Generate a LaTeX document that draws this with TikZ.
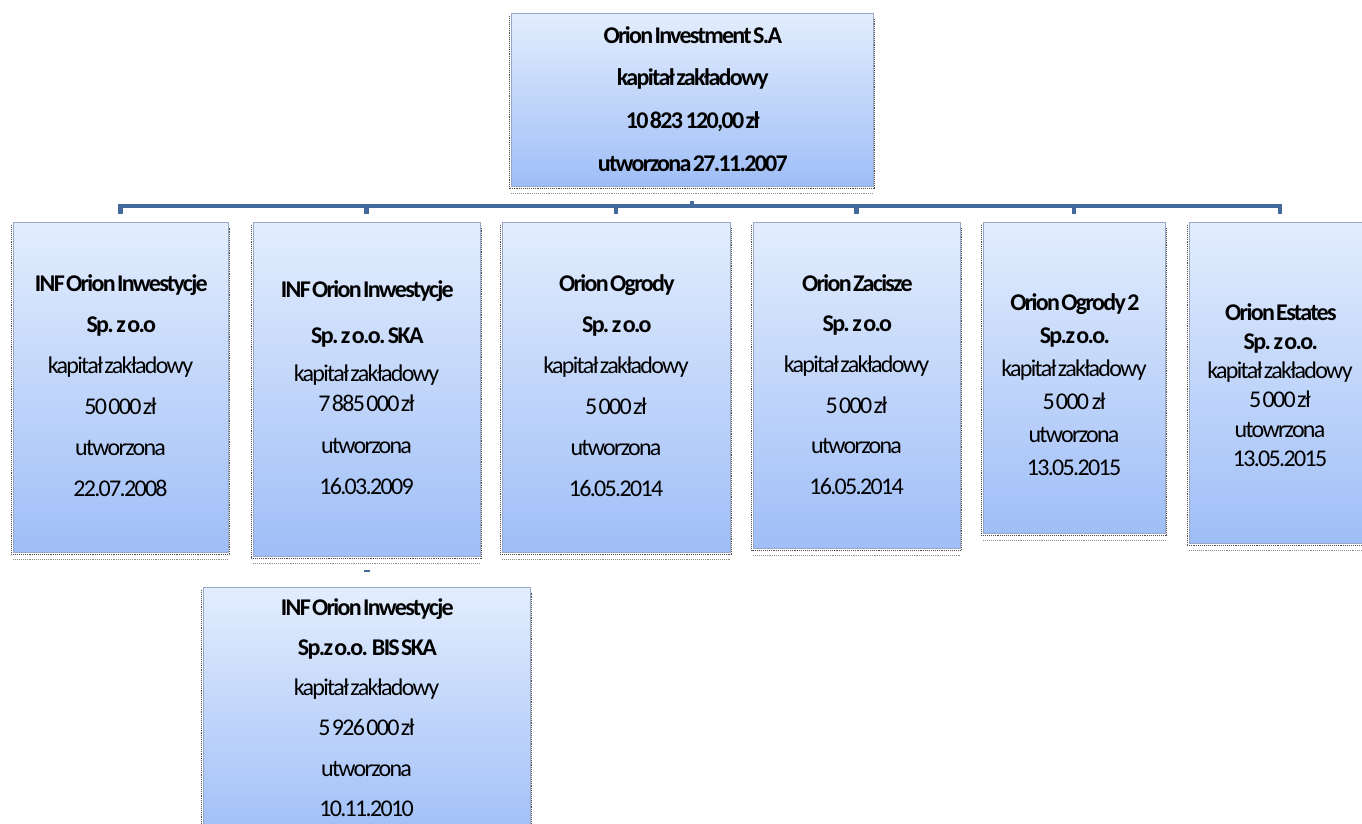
\documentclass[tikz,border=0pt]{standalone}
\usepackage{fontspec}
\setmainfont{Carlito}[LetterSpace=-7,WordSpace=0.35]
\usetikzlibrary{calc}
\definecolor{boxtop}{HTML}{E3EDFD}
\definecolor{boxbot}{HTML}{9FBEF7}
\definecolor{boxedge}{HTML}{98A8C6}
\definecolor{conncol}{HTML}{44699D}
\newcommand{\dshadow}[1]{%
  \draw[dshade] ($(#1.north west)+(-1.5,3)$) -- ($(#1.south west)+(-1.5,2.5)$) -- ($(#1.south east)+(1.5,2.5)$) -- ($(#1.north east)+(1.5,6)$);
  \draw[dshade, black!45] ($(#1.south west)+(0,7)$) -- ($(#1.south east)+(0,7)$);}
\begin{document}
\begin{tikzpicture}[x=1pt,y=-1pt,
  orgbox/.style={rectangle, inner sep=0pt, top color=boxtop, bottom color=boxbot, draw=boxedge, line width=0.8pt},
  dshade/.style={densely dotted, line width=1.1pt, black!70},
  conn/.style={draw=conncol, line width=4.2pt},
  txt/.style={align=center, inner sep=0pt, font=\fontsize{24}{#1}\selectfont},
]
\fill[white] (0,0) rectangle (1362,823);
\useasboundingbox (0,0) rectangle (1362,823);

% boxes
\node[orgbox, minimum width=362pt, minimum height=173pt] (top) at (692,99.5) {};
\node[orgbox, minimum width=215pt, minimum height=330pt] (b1) at (120.5,387) {};
\node[orgbox, minimum width=227pt, minimum height=334pt] (b2) at (366.5,389) {};
\node[orgbox, minimum width=228pt, minimum height=330pt] (b3) at (616,387) {};
\node[orgbox, minimum width=207pt, minimum height=326pt] (b4) at (856.5,385) {};
\node[orgbox, minimum width=182pt, minimum height=311pt] (b5) at (1074,377.5) {};
\node[orgbox, minimum width=182pt, minimum height=321pt] (b6) at (1280,382.5) {};
\node[orgbox, minimum width=327pt, minimum height=253pt] (b7) at (366.5,713.5) {};
\foreach \b in {top,b1,b2,b3,b4,b5,b6,b7} {\dshadow{\b}}

% connectors
\draw[conn] ($(b1.north)+(0,-8)$) -- ($(b1.north)+(0,-16)$) -- ($(b6.north)+(0,-16)$) -- ($(b6.north)+(0,-8)$);
\foreach \b in {b2,b3,b4,b5} {\draw[conn] ($(\b.north)+(0,-8)$) -- ($(\b.north)+(0,-16)$);}
\coordinate (topa) at ($(top.south)+(0,15)$);
\coordinate (topb) at ($(top.south)+(0,21)$);
\draw[conn] (topa) -- (topb);
\coordinate (da) at ($(b7.north)+(-3,-16)$);
\coordinate (db) at ($(b7.north)+(3,-16)$);
\draw[draw=conncol, line width=2pt] (da) -- (db);

% texts
\node[txt=42.7] (ttop) at (692,99) {\textbf{Orion Investment S.A}\\ \textbf{kapitał zakładowy}\\ \textbf{10 823 \ 120,00 zł}\\ \textbf{utworzona 27.11.2007}};
\node[txt=41] (t1) at (120.5,385.5) {\textbf{INF Orion Inwestycje}\\ \textbf{Sp. z o.o}\\ kapitał zakładowy\\ 50 000 zł\\ utworzona\\ 22.07.2008};
\node[txt=30] (t2) at (366.5,387.5) {\textbf{INF Orion Inwestycje}\\[16pt] \textbf{Sp. z o.o. SKA}\\[8pt] kapitał zakładowy\\ 7 885 000 zł\\[12pt] utworzona\\[11pt] 16.03.2009};
\node[txt=41] (t3) at (616,385.5) {\textbf{Orion Ogrody}\\ \textbf{Sp. z o.o}\\ kapitał zakładowy\\ 5 000 zł\\ utworzona\\ 16.05.2014};
\node[txt=40.6] (t4) at (856.5,384.5) {\textbf{Orion Zacisze}\\ \textbf{Sp. z o.o}\\ kapitał zakładowy\\ 5 000 zł\\ utworzona\\ 16.05.2014};
\node[txt=33] (t5) at (1074,384.5) {\textbf{Orion Ogrody 2}\\ \textbf{Sp.z o.o.}\\ kapitał zakładowy\\ 5 000 \ zł\\ utworzona\\ 13.05.2015};
\node[txt=29.2] (t6) at (1280,385) {\textbf{Orion Estates}\\ \textbf{Sp. z o.o.}\\ kapitał zakładowy\\ 5 000 zł\\ utowrzona\\ 13.05.2015};
\node[txt=40.2] (t7) at (366.5,707.5) {\textbf{INF Orion Inwestycje}\\ \textbf{Sp.z o.o. \ BIS SKA}\\ kapitał zakładowy\\ 5 926 000 zł\\ utworzona\\ 10.11.2010};
\end{tikzpicture}
\end{document}
